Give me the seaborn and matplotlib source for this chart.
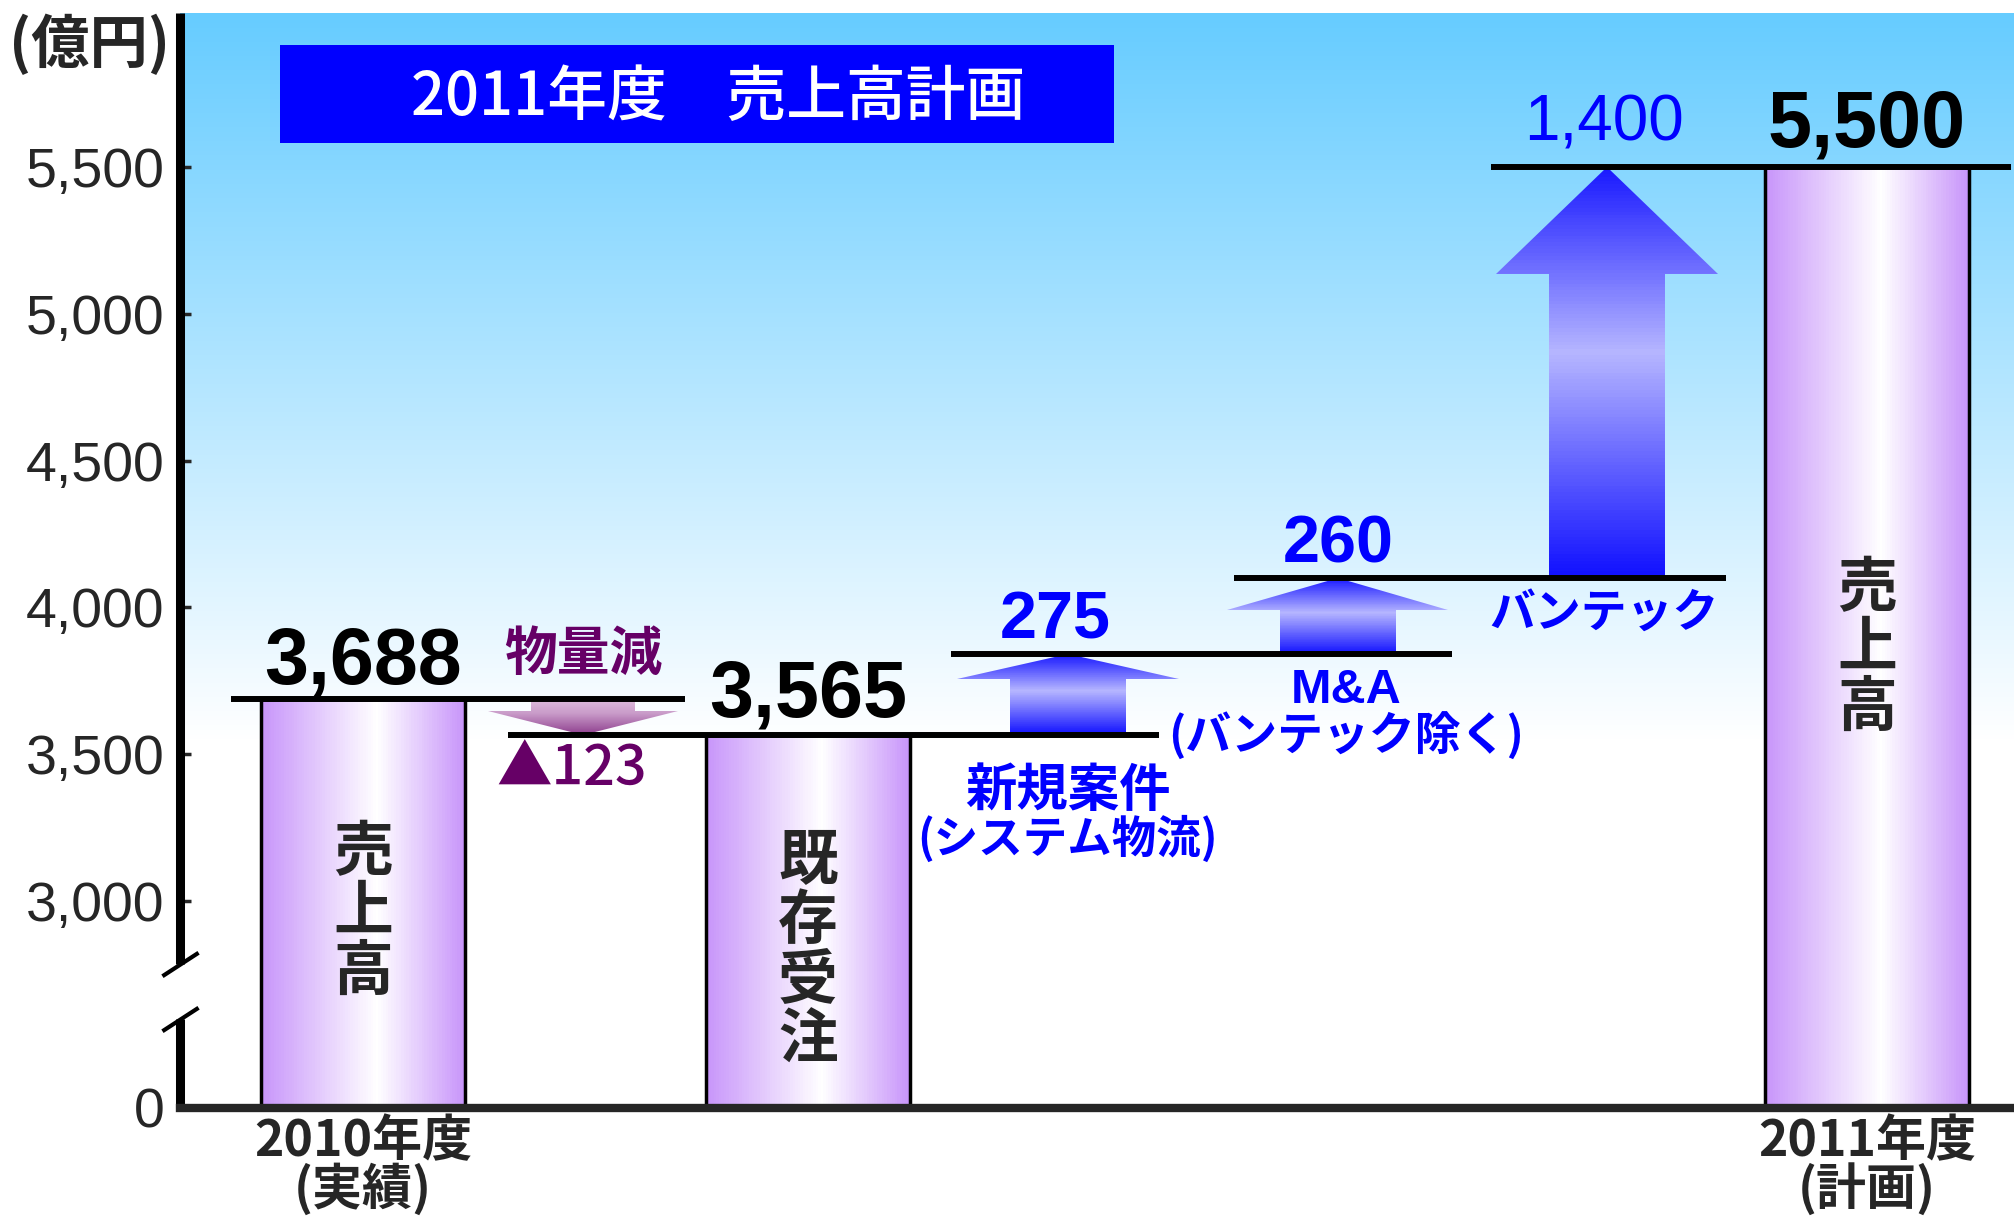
import numpy as np
import matplotlib
matplotlib.use("Agg")
import matplotlib.pyplot as plt
from matplotlib.colors import LinearSegmentedColormap, to_rgb
from matplotlib.patches import Polygon, Rectangle
import seaborn as sns

# ---- data -------------------------------------------------------------
bar_values = [3688, 3565, 5500]
bar_xlabels = ["2010年度\n(実績)", "", "2011年度\n(計画)"]
bar_inner = ["売\n上\n高", "既\n存\n受\n注", "売\n上\n高"]
bar_value_labels = ["3,688", "3,565", "5,500"]

step_values = [-123, 275, 260, 1400]
step_value_labels = ["▲123", "275", "260", "1,400"]
step_names = ["物量減", "新規案件", "M&A", "バンテック"]
step_subnames = ["", "(システム物流)", "(バンテック除く)", ""]

y_ticks = [0, 3000, 3500, 4000, 4500, 5000, 5500]

# ---- layout (x in units of 100 px from the y axis) ---------------------
col_x = [1.83, 4.03, 6.28, 8.88, 11.58, 14.27, 16.87]
bar_cols = [0, 2, 6]
step_cols = [1, 3, 4, 5]
BAR_W = 2.04
line_span = [(0.51, 5.05), (3.28, 9.79), (7.71, 12.72), (10.54, 15.46), (13.11, 18.31)]
head_hw = [0.95, 1.11, 1.105, 1.11]
body_hw = [0.52, 0.58, 0.58, 0.58]
head_frac = [0.67, 0.30, 0.42, 0.26]
inner_y = [2959, 2826, 3859]
YTOP = 6025
BREAK, SQUEEZE = 2700, 0.15

BLUE = "#0000ff"
PURPLE = "#660066"
CJK = ["Noto Sans CJK JP", "DejaVu Sans"]
NUM = ["Liberation Sans", "Noto Sans CJK JP", "DejaVu Sans"]

sns.set_style("white")
plt.rcParams["font.family"] = NUM

W, H = 2015, 1223
fig = plt.figure(figsize=(W / 100, H / 100), dpi=100)
pos = [180 / W, 1 - 1108 / H, 1835 / W, 1095 / H]

# sky gradient behind the plot
bg = fig.add_axes(pos, zorder=-1)
f = np.linspace(0, 1, 400)[:, None]
t = np.clip((f - 0.336) / 0.664, 0, 1)
top = np.array(to_rgb("#66ccff"))
img = (1 - t)[..., None] * np.ones(3) + t[..., None] * top
bg.imshow(img * np.ones((1, 2, 1)), origin="lower", aspect="auto", extent=(0, 1, 0, 1))
bg.axis("off")

ax = fig.add_axes(pos)
ax.set_facecolor("none")

# bars
bar_x = [col_x[c] for c in bar_cols]
native = np.diff(sorted(bar_x)).min()
sns.barplot(x=bar_x, y=bar_values, native_scale=True, orient="x", width=BAR_W / native,
            color="#c896fa", edgecolor="black", linewidth=2.5, ax=ax)

bar_cmap = LinearSegmentedColormap.from_list(
    "bar", [(0, "#c896fa"), (0.57, "#ffffff"), (1, "#c896fa")])
grad = np.linspace(0, 1, 80)[None, :]
for p in list(ax.patches):
    x0, w, h = p.get_x(), p.get_width(), p.get_height()
    ax.pcolormesh(np.linspace(x0, x0 + w, 81), [0, h], grad, cmap=bar_cmap,
                  shading="flat", edgecolors="none", antialiased=False, zorder=1.5)
    p.set_facecolor("none")
    p.set_zorder(2)

# arrows
levels = [bar_values[0]]
for v in step_values:
    levels.append(levels[-1] + v)

up_cmap = LinearSegmentedColormap.from_list(
    "up", [(0, "#1010ff"), (0.55, "#b6b6ff"), (1, "#1a1aff")])
down_cmap = LinearSegmentedColormap.from_list(
    "down", [(0, "#8c3c8c"), (0.6, "#c89ac8"), (1, "#dcbcdc")])

for j, c in enumerate(step_cols):
    x = col_x[c]
    a, b = levels[j], levels[j + 1]
    hb = b - head_frac[j] * (b - a)
    hw, bw = head_hw[j], body_hw[j]
    verts = [(x - bw, a), (x + bw, a), (x + bw, hb), (x + hw, hb), (x, b),
             (x - hw, hb), (x - bw, hb)]
    poly = Polygon(verts, closed=True, transform=ax.transData)
    lo, hi = min(a, b), max(a, b)
    ys = np.linspace(lo, hi, 121)
    cc = np.linspace(0, 1, 120)[:, None]
    mesh = ax.pcolormesh([x - hw, x + hw], ys, cc,
                         cmap=up_cmap if b > a else down_cmap,
                         shading="flat", edgecolors="none", antialiased=False, zorder=3)
    mesh.set_clip_path(poly)

# step lines
ax.hlines(levels, [s[0] for s in line_span], [s[1] for s in line_span],
          colors="black", lw=4.3, zorder=4)

# axis scale with a break
def fwd(v):
    v = np.asarray(v, dtype=float)
    return np.where(v >= BREAK, v, BREAK - (BREAK - v) * SQUEEZE)

def inv(u):
    u = np.asarray(u, dtype=float)
    return np.where(u >= BREAK, u, BREAK - (BREAK - u) / SQUEEZE)

ax.set_yscale("function", functions=(fwd, inv))
ax.set_ylim(0, YTOP)
ax.set_xlim(0, 18.35)

for s in ["top", "right", "left"]:
    ax.spines[s].set_visible(False)
ax.spines["bottom"].set_linewidth(6)
ax.spines["bottom"].set_zorder(5)

ytr = ax.get_yaxis_transform()
ax.plot([0, 0], [2785, YTOP], transform=ytr, color="black", lw=6.5,
        solid_capstyle="butt", clip_on=False, zorder=5)
ax.plot([0, 0], [0, 2027], transform=ytr, color="black", lw=6.5,
        solid_capstyle="butt", clip_on=False, zorder=5)
for yb in [2785, 2027]:
    ax.plot([0], [yb], transform=ytr, marker=[(-1, -0.65), (1, 0.65)], ms=26,
            mew=3, color="black", clip_on=False, zorder=5)

ax.set_yticks(y_ticks)
ax.set_yticklabels([f"{v:,}" for v in y_ticks])
ax.tick_params(axis="y", direction="in", length=8, width=2.5, pad=11,
               labelsize=40, left=True)
for lbl in ax.get_yticklabels():
    lbl.set_fontfamily(NUM)

xt = [bar_x[i] for i, s in enumerate(bar_xlabels) if s]
ax.set_xticks(xt)
ax.set_xticklabels([s for s in bar_xlabels if s])
ax.tick_params(axis="x", length=0, pad=6, labelsize=36)
for lbl in ax.get_xticklabels():
    lbl.set_fontfamily(CJK)
    lbl.set_fontweight("bold")
    lbl.set_linespacing(0.9)
ax.set_xlabel("")
ax.set_ylabel("")

# labels
def label(x, y, s, dx=0, dy=0, **kw):
    ax.annotate(s, (x, y), xytext=(dx, dy), textcoords="offset points",
                ha="center", annotation_clip=False, zorder=6, **kw)

bar_dy = [11.5, 13.7, 15]
for i, c in enumerate(bar_cols):
    label(col_x[c], bar_values[i], bar_value_labels[i], dy=bar_dy[i], va="baseline",
          fontsize=57, fontweight="bold", color="black", family=NUM)
    ax.text(col_x[c], inner_y[i], bar_inner[i], ha="center", va="center",
            fontsize=43, fontweight="bold", linespacing=1.0, family=CJK, zorder=6)

# step labels
label(col_x[1], levels[0], step_names[0], dy=32, va="center", fontsize=38,
      fontweight="bold", color=PURPLE, family=CJK)
label(col_x[1], levels[1], step_value_labels[0], dx=-8, dy=-25, va="center",
      fontsize=40, fontweight="medium", color=PURPLE, family=CJK)

label(col_x[3], levels[2], step_value_labels[1], dx=-9, dy=11.5, va="baseline",
      fontsize=48, fontweight="bold", color=BLUE, family=NUM)
label(col_x[3], levels[1], step_names[1], dy=-40, va="center", fontsize=37,
      fontweight="bold", color=BLUE, family=CJK)
label(col_x[3], levels[1], step_subnames[1], dy=-75, va="center", fontsize=32,
      fontweight="bold", color=BLUE, family=CJK)

label(col_x[4], levels[3], step_value_labels[2], dy=11, va="baseline",
      fontsize=48, fontweight="bold", color=BLUE, family=NUM)
label(col_x[4], levels[2], step_names[2], dx=6, dy=-26, va="center", fontsize=35,
      fontweight="bold", color=BLUE, family=NUM)
label(col_x[4], levels[2], step_subnames[2], dx=6, dy=-59, va="center", fontsize=33,
      fontweight="bold", color=BLUE, family=CJK)

label(col_x[5], levels[4], step_value_labels[3], dx=-2, dy=19, va="baseline",
      fontsize=46, color=BLUE, family=NUM)
label(col_x[5], levels[3], step_names[3], dx=-2, dy=-26, va="center", fontsize=33,
      fontweight="bold", color=BLUE, family=CJK)

# title box and unit
fig.add_artist(Rectangle((280 / W, 1 - 143 / H), 834 / W, 98 / H,
                         transform=fig.transFigure, facecolor=BLUE,
                         edgecolor="none", zorder=10))
fig.text(718 / W, 1 - 97 / H, "2011年度　売上高計画", color="white", fontsize=43,
         fontweight="medium", ha="center", va="center", family=CJK, zorder=11)
fig.text(90 / W, 1 - 45 / H, "(億円)", fontsize=42, fontweight="bold",
         ha="center", va="center", family=CJK)

fig.savefig("out.png", dpi=100, facecolor="white")
